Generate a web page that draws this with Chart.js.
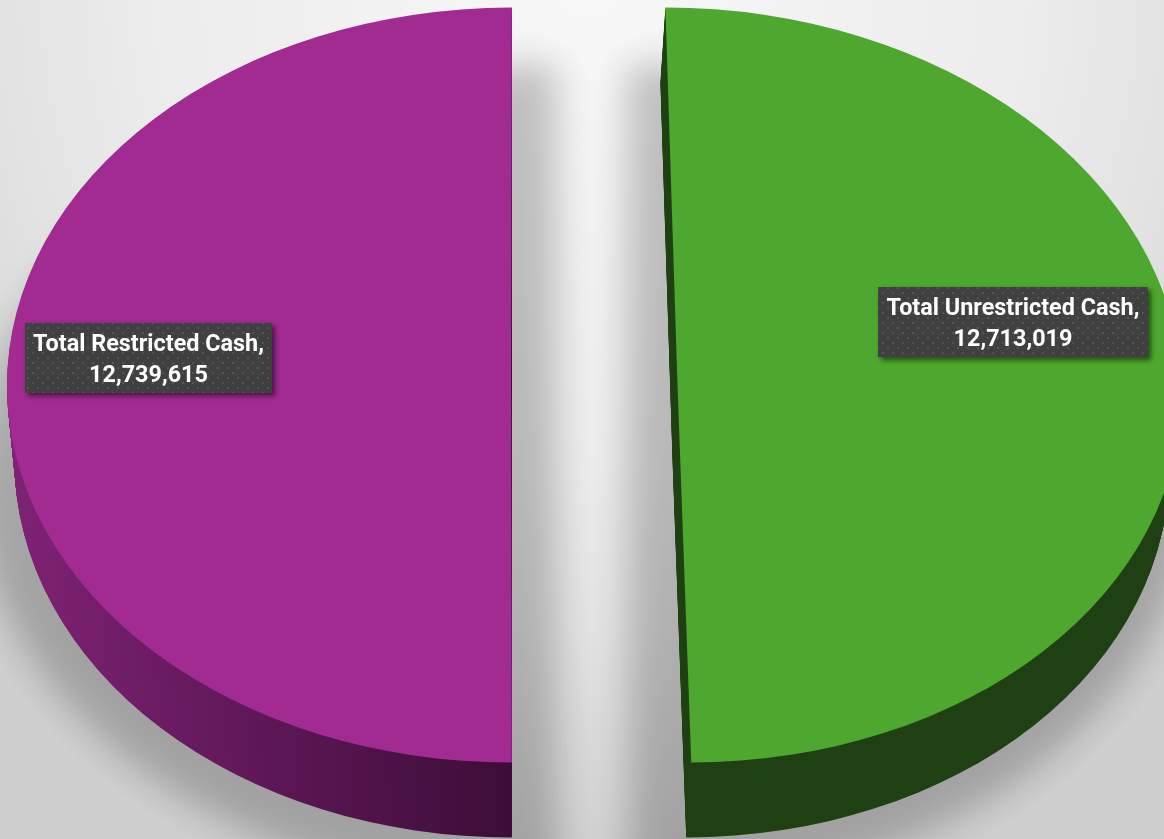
<!DOCTYPE html>
<html>
<head>
<meta charset="utf-8">
<title>Cash</title>
<script src="https://cdn.jsdelivr.net/npm/chart.js@4"></script>
<style>
  html, body { margin: 0; padding: 0; width: 1164px; height: 839px; overflow: hidden; }
  body { background: radial-gradient(ellipse 800px 880px at 590px -20px, #f8f8f8 0%, #ececec 55%, #e2e2e2 75%, #cfcfcf 100%); }
  canvas { display: block; }
</style>
</head>
<body>
<canvas id="chart-1" width="1164" height="839"></canvas>
<script>
const categories = ['Total Unrestricted Cash', 'Total Restricted Cash'];
const cashValues = [12713019, 12739615];

const topColors = ['#4ea72e', '#a22b92'];
const sideColors = [['#1f4012', '#1f4012'], ['#3d0d38', '#7f2275']];
// explode, skew and wall drift of each slice, to fake the perspective
const explode = [82.5, -84];
const skews = [0.024, -0.0017];
const wallDrift = [-5, 0];
// ground shadow is a bigger copy of the slice, pushed down
const shadowShift = [-50, 45];
const shadowScale = [1.12, 1.15];
const boxes = [
  { left: 878, top: 287, width: 270, height: 70 },
  { left: 25, top: 323, width: 247, height: 70 }
];

const SQUASH = 0.749;
const DEPTH = 75;
const TAPER = 0.015;
const SHADOW_DROP = 95;
const SHADOW_HEIGHT = 1.1;
const FAR = 3000;

function drawSlice(ctx, el, i, d, fill) {
  const saved = el.options;
  const k = d / DEPTH;
  ctx.save();
  ctx.translate(el.x + explode[i] + wallDrift[i] * k, el.y + d);
  ctx.transform(1 - TAPER * k, 0, skews[i], SQUASH, 0, 0);
  ctx.translate(-el.x, -el.y);
  el.options = Object.assign({}, saved, { backgroundColor: fill });
  el.draw(ctx);
  el.options = saved;
  ctx.restore();
}

function drawGroundShadow(ctx, el, i) {
  ctx.save();
  ctx.shadowColor = 'rgba(0,0,0,0.22)';
  ctx.shadowBlur = 36;
  ctx.shadowOffsetX = FAR;
  // the slice itself is drawn off the canvas, only its shadow lands
  ctx.translate(el.x + explode[i] + shadowShift[i] - FAR, el.y + SHADOW_DROP);
  ctx.scale(shadowScale[i], SHADOW_HEIGHT * SQUASH);
  ctx.translate(-el.x, -el.y);
  el.draw(ctx);
  ctx.restore();
}

const pie3d = {
  id: 'pie3d',
  beforeDatasetDraw(chart, args) {
    const ctx = chart.ctx;
    const arcs = args.meta.data;

    arcs.forEach((el, i) => drawGroundShadow(ctx, el, i));

    arcs.forEach((el, i) => {
      const g = ctx.createLinearGradient(el.x - el.outerRadius, 0, el.x, 0);
      g.addColorStop(0, sideColors[i][1]);
      g.addColorStop(1, sideColors[i][0]);
      for (let d = DEPTH; d > 0; d--) drawSlice(ctx, el, i, d, g);
    });
    arcs.forEach((el, i) => drawSlice(ctx, el, i, 0, topColors[i]));
    return false;
  },
  afterDraw(chart) {
    const ctx = chart.ctx;
    const tile = document.createElement('canvas');
    tile.width = 10;
    tile.height = 10;
    const t = tile.getContext('2d');
    t.fillStyle = '#404040';
    t.fillRect(0, 0, 10, 10);
    t.fillStyle = '#545454';
    t.fillRect(2, 2, 2, 2);
    t.fillRect(7, 7, 2, 2);
    const dots = ctx.createPattern(tile, 'repeat');

    categories.forEach((name, i) => {
      const b = boxes[i];
      ctx.save();
      ctx.shadowColor = 'rgba(0,0,0,0.55)';
      ctx.shadowBlur = 5;
      ctx.shadowOffsetX = 3;
      ctx.shadowOffsetY = 3;
      ctx.fillStyle = '#404040';
      ctx.fillRect(b.left, b.top, b.width, b.height);
      ctx.restore();
      ctx.fillStyle = dots;
      ctx.fillRect(b.left, b.top, b.width, b.height);

      ctx.fillStyle = '#ffffff';
      ctx.font = 'bold 23.4px Roboto';
      ctx.textAlign = 'center';
      ctx.textBaseline = 'middle';
      const mid = b.left + b.width / 2;
      ctx.fillText(name + ',', mid, b.top + 22);
      ctx.fillText(cashValues[i].toLocaleString('en-US'), mid, b.top + 53);
    });
  }
};

new Chart(document.getElementById('chart-1'), {
  type: 'pie',
  data: {
    labels: categories,
    datasets: [{
      data: cashValues,
      backgroundColor: topColors,
      borderWidth: 0
    }]
  },
  options: {
    responsive: false,
    animation: false,
    radius: 504,
    layout: { padding: { left: 26, right: 0, top: 0, bottom: 69 } },
    plugins: {
      legend: { display: false },
      tooltip: { enabled: false }
    }
  },
  plugins: [pie3d]
});
</script>
</body>
</html>
